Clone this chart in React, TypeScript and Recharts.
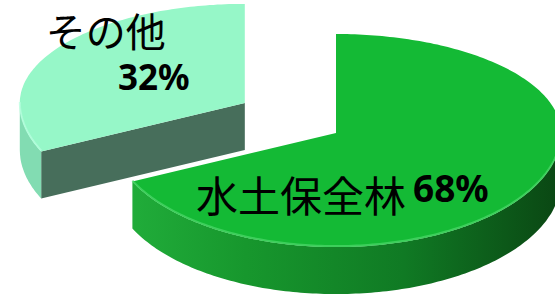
import React from "react";
import { PieChart, Pie } from "recharts";

// shares of forest types
const names = ["その他", "水土保全林"];
const shares = [32, 68];
const data = names.map((name, i) => ({ name, value: shares[i] }));

const W = 555;
const H = 303;
const CX = 336;
const CY = 133;
const R = 225;
const K_TOP = 0.44; // far half of the ellipse is flatter (perspective)
const K_BOT = 0.507;
const DEPTH = 47;
const EXPLODE = [108, 0];

const TOP_FILL = ["#96f7c8", "#14ba35"];
const WALL_FILL = ["#476e5b", "#0e6a1f"];
const ARC_FILL = ["#82dcb2", "url(#greenSide)"];
const NAME_POS = [
  { dx: -139, dy: -56, anchor: "middle", size: 40 },
  { dx: -140, dy: 79, anchor: "start", size: 42 },
];
const PCT_POS = [
  { dx: -91, dy: -13, anchor: "middle", size: 35 },
  { dx: 77, dy: 69, anchor: "start", size: 37 },
];

const rad = (d: number) => (d * Math.PI) / 180;

function pt(cx: number, cy: number, deg: number, dz = 0): [number, number] {
  const s = Math.sin(rad(deg));
  return [cx + R * Math.cos(rad(deg)), cy - R * s * (s > 0 ? K_TOP : K_BOT) + dz];
}

function arc(cx: number, cy: number, from: number, to: number, dz = 0) {
  const pts: [number, number][] = [];
  const step = from < to ? 1 : -1;
  for (let a = from; step > 0 ? a < to : a > to; a += step) pts.push(pt(cx, cy, a, dz));
  pts.push(pt(cx, cy, to, dz));
  return pts;
}

const toPath = (pts: [number, number][]) =>
  "M" + pts.map((p) => `${p[0].toFixed(1)},${p[1].toFixed(1)}`).join("L") + "Z";

function Slice3D(props: any) {
  const { index, startAngle, endAngle, midAngle, percent, name } = props;
  const a1 = Math.min(startAngle, endAngle);
  const a2 = Math.max(startAngle, endAngle);
  const d = EXPLODE[index] || 0;
  const cx = CX + d * Math.cos(rad(midAngle));
  const cy = CY - d * Math.sin(rad(midAngle)) * 0.52;

  const walls: React.ReactNode[] = [];
  // radial walls facing the viewer
  [a1, a2].forEach((a, k) => {
    const c = Math.cos(rad(a));
    if ((k === 0 && c > 1e-6) || (k === 1 && c < -1e-6)) {
      const p = pt(cx, cy, a);
      walls.push(
        <path
          key={`r${k}`}
          d={toPath([[cx, cy], p, [p[0], p[1] + DEPTH], [cx, cy + DEPTH]])}
          fill={WALL_FILL[index]}
        />
      );
    }
  });
  // curved outer wall on the near half
  const highlights: React.ReactNode[] = [];
  for (let k = -1; k <= 2; k++) {
    const lo = Math.max(a1, 180 + 360 * k);
    const hi = Math.min(a2, 360 + 360 * k);
    if (hi > lo) {
      const top = arc(cx, cy, lo, hi);
      const bot = arc(cx, cy, hi, lo, DEPTH);
      walls.push(<path key={`c${k}`} d={toPath([...top, ...bot])} fill={ARC_FILL[index]} />);
      highlights.push(
        <polyline
          key={`h${k}`}
          points={top.map((p) => `${p[0]},${p[1] - 1}`).join(" ")}
          fill="none"
          stroke={index === 1 ? "#4fd86c" : "#b8ffe0"}
          strokeWidth={2}
          opacity={0.7}
        />
      );
    }
  }
  const face = toPath([[cx, cy], ...arc(cx, cy, a1, a2)]);
  const n = NAME_POS[index];
  const p = PCT_POS[index];

  return (
    <g>
      <defs>
        <linearGradient id="greenSide" gradientUnits="userSpaceOnUse" x1={CX - R} x2={CX + R} y1={0} y2={0}>
          <stop offset="0" stopColor="#22b03c" />
          <stop offset="0.3" stopColor="#17972d" />
          <stop offset="0.65" stopColor="#107a24" />
          <stop offset="1" stopColor="#0a4613" />
        </linearGradient>
      </defs>
      {walls}
      <path d={face} fill={TOP_FILL[index]} />
      {highlights}
      <text
        x={cx + n.dx}
        y={cy + n.dy}
        textAnchor={n.anchor}
        fontSize={n.size}
        fontFamily="'Noto Sans CJK JP', sans-serif"
        fill="#000"
      >
        {name}
      </text>
      <text
        x={cx + p.dx}
        y={cy + p.dy}
        textAnchor={p.anchor}
        fontSize={p.size}
        fontWeight="bold"
        fontFamily="'Noto Sans', 'Noto Sans CJK JP', sans-serif"
        fill="#000"
      >
        {`${Math.round(percent * 100)}%`}
      </text>
    </g>
  );
}

export default function App() {
  return (
    <div style={{ position: "absolute", left: 0, top: 0, width: W, height: H, background: "#fff" }}>
      <PieChart width={W} height={H} margin={{ top: 0, right: 0, bottom: 0, left: 0 }}>
        <Pie
          data={data}
          dataKey="value"
          nameKey="name"
          cx={CX}
          cy={CY}
          outerRadius={R}
          startAngle={90}
          endAngle={450}
          fill="none"
          stroke="none"
          labelLine={false}
          label={Slice3D}
          isAnimationActive={false}
        />
      </PieChart>
    </div>
  );
}
